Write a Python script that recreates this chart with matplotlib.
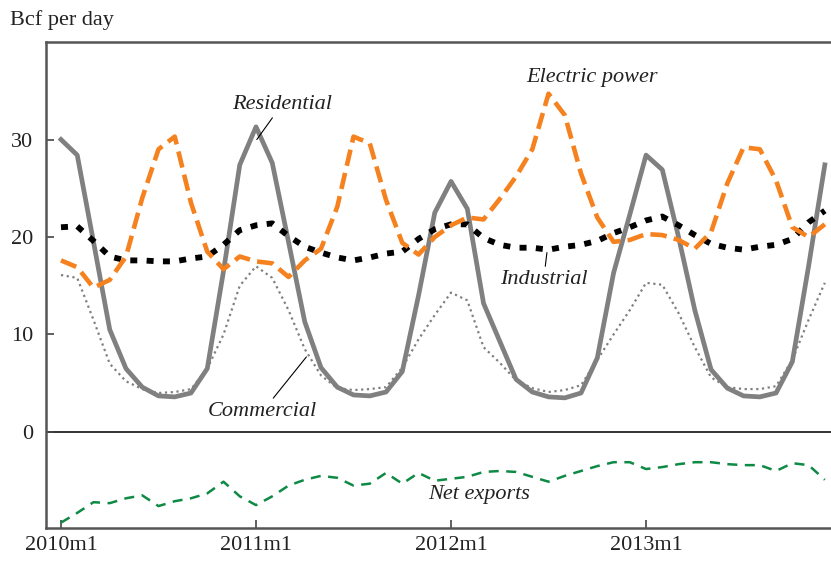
import matplotlib
matplotlib.use("Agg")
import matplotlib.pyplot as plt
import numpy as np

# monthly data, 2010m1 .. 2013m12 (Bcf per day)
residential = [30.0, 28.4, 19.5, 10.5, 6.5, 4.6, 3.7, 3.6, 4.0, 6.5, 16.5, 27.4,
               31.3, 27.6, 19.5, 11.3, 6.6, 4.6, 3.8, 3.7, 4.1, 6.2, 14.0, 22.5,
               25.7, 22.9, 13.2, 9.3, 5.4, 4.1, 3.6, 3.5, 4.0, 7.6, 16.3, 22.3,
               28.4, 26.9, 20.0, 12.5, 6.4, 4.5, 3.7, 3.6, 4.0, 7.2, 17.0, 27.4]
commercial = [16.1, 15.8, 11.5, 7.0, 5.2, 4.4, 4.0, 4.1, 4.4, 6.5, 10.0, 15.0,
              17.0, 15.8, 12.5, 8.5, 5.8, 4.5, 4.3, 4.4, 4.6, 6.6, 9.5, 12.0,
              14.3, 13.5, 8.7, 7.1, 5.3, 4.5, 4.1, 4.3, 4.8, 7.4, 10.0, 12.5,
              15.3, 15.1, 12.2, 8.7, 5.6, 4.6, 4.4, 4.4, 4.7, 7.4, 11.5, 15.3]
electric = [17.6, 16.9, 14.8, 15.6, 18.0, 24.0, 29.0, 30.3, 23.5, 18.5, 16.7, 18.0,
            17.5, 17.3, 15.9, 17.6, 18.8, 23.1, 30.3, 29.6, 23.8, 19.4, 18.2, 20.0,
            21.2, 22.0, 21.8, 23.9, 26.2, 29.0, 34.7, 32.5, 26.5, 22.0, 19.5, 19.7,
            20.3, 20.2, 19.7, 18.8, 20.5, 25.5, 29.2, 29.0, 25.8, 21.0, 20.0, 21.3]
industrial = [21.0, 21.1, 19.6, 18.0, 17.6, 17.6, 17.5, 17.5, 17.8, 18.0, 19.2, 20.7,
              21.2, 21.4, 20.1, 19.0, 18.4, 17.9, 17.6, 17.9, 18.3, 18.5, 19.8, 20.8,
              21.3, 21.3, 19.9, 19.2, 18.9, 18.9, 18.7, 19.0, 19.2, 19.6, 20.4, 21.0,
              21.7, 22.1, 21.2, 20.2, 19.3, 18.9, 18.7, 19.0, 19.2, 19.8, 21.5, 22.7]
net_exports = [-9.3, -8.3, -7.2, -7.3, -6.8, -6.5, -7.6, -7.1, -6.8, -6.3, -5.1, -6.6,
               -7.5, -6.6, -5.5, -4.9, -4.5, -4.7, -5.5, -5.3, -4.2, -5.3, -4.2, -5.0,
               -4.8, -4.6, -4.1, -4.0, -4.1, -4.6, -5.1, -4.5, -4.0, -3.5, -3.1, -3.1,
               -3.8, -3.6, -3.3, -3.1, -3.1, -3.3, -3.4, -3.4, -4.0, -3.2, -3.4, -4.9]
tick_labels = ["2010m1", "2011m1", "2012m1", "2013m1"]

plt.rcParams['font.family'] = ['Liberation Serif', 'DejaVu Serif']
TXT = '#222222'

months = np.arange(len(residential))

fig = plt.figure(figsize=(8.31, 5.61), dpi=100)
ax = fig.add_axes([0.0554, 0.0588, 0.9446, 0.8663])

ax.axhline(0, color='#222222', linewidth=1.3, zorder=1)

ax.plot(months, commercial, color='#808080', linewidth=1.6,
        linestyle=(0, (1, 1.6)), zorder=2)
ax.plot(months, residential, color='#808080', linewidth=3.4, zorder=3)
ax.plot(months, industrial, color='black', linewidth=4.2,
        linestyle=(0, (1.2, 1.6)), dash_capstyle='butt', zorder=4)
ax.plot(months, electric, color='#F5821F', linewidth=3.3,
        linestyle=(0, (3.6, 1.6)), dash_capstyle='butt', zorder=5)
ax.plot(months, net_exports, color='#0E8A45', linewidth=1.8,
        linestyle=(0, (4, 3)), zorder=4)

ax.set_xlim(-0.92, 47.38)
ax.set_ylim(-9.85, 40)

ax.set_xticks([0, 12, 24, 36])
ax.set_xticklabels(tick_labels)
ax.set_yticks([0, 10, 20, 30])
ax.tick_params(axis='both', direction='in', length=6, width=1.2,
               color='#444444', labelsize=16, labelcolor=TXT)
ax.tick_params(axis='x', pad=6)
ax.tick_params(axis='y', pad=9)

for side in ['left', 'top', 'bottom']:
    ax.spines[side].set_color('#555555')
    ax.spines[side].set_linewidth(1.8)
ax.spines['right'].set_visible(False)

# labels
fig.text(10 / 831, 1 - 20 / 561, 'Bcf per day', fontsize=16, color=TXT,
         ha='left', va='center')

leader = dict(arrowstyle='-', color='black', lw=0.8, shrinkA=1, shrinkB=0)
ax.annotate('Residential', xy=(12.05, 30.0), xytext=(13.6, 33.6),
            fontsize=16, style='italic', color=TXT, ha='center', va='center',
            arrowprops=leader)
ax.text(32.7, 36.4, 'Electric power', fontsize=16, style='italic', color=TXT,
        ha='center', va='center')
ax.annotate('Industrial', xy=(29.9, 18.4), xytext=(29.7, 15.6),
            fontsize=16, style='italic', color=TXT, ha='center', va='center',
            arrowprops=leader)
ax.annotate('Commercial', xy=(15.1, 7.7), xytext=(12.4, 2.1),
            fontsize=16, style='italic', color=TXT, ha='center', va='center',
            arrowprops=leader)
ax.text(25.7, -6.45, 'Net exports', fontsize=16, style='italic', color=TXT,
        ha='center', va='center')

plt.savefig('out.png', dpi=100)
